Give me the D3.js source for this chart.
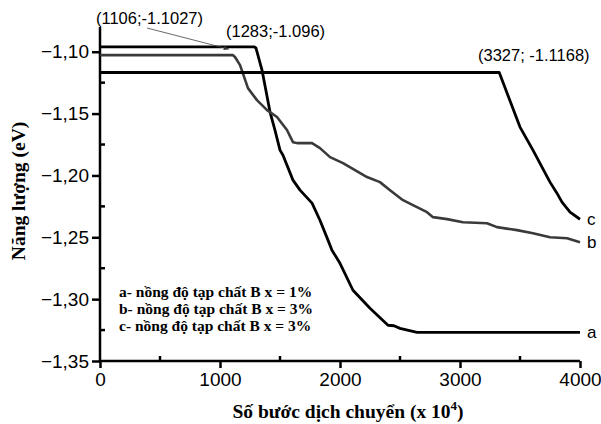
<!DOCTYPE html>
<html>
<head>
<meta charset="utf-8">
<style>
    body { margin: 0; background: #fff; }
    svg { display: block; }
    .tick-label { font-family: Arial, 'Liberation Sans', sans-serif; font-size: 19px; fill: #000; }
    .title { font-family: 'Times New Roman', 'Liberation Serif', serif; font-weight: bold; fill: #000; }
    .note { font-family: Arial, 'Liberation Sans', sans-serif; font-size: 16.5px; fill: #000; }
</style>
</head>
<body>
<svg width="601" height="424"></svg>
<script src="https://d3js.org/d3.v7.min.js"></script>
<script>
    // series: [step (x 10^4), energy (eV)]
    let seriesA = [[0, -1.096], [1283, -1.096], [1300, -1.097], [1350, -1.1148], [1417, -1.1488], [1458, -1.1633],
        [1500, -1.1795], [1525, -1.1837], [1608, -1.2038], [1667, -1.2119], [1767, -1.2224], [1833, -1.2362],
        [1900, -1.2523], [1933, -1.2604], [2000, -1.271], [2108, -1.2928], [2250, -1.3074], [2400, -1.3211],
        [2450, -1.3215], [2500, -1.3236], [2642, -1.3268], [4000, -1.3268]]
    let seriesB = [[0, -1.1027], [1106, -1.1027], [1125, -1.1043], [1167, -1.1108], [1233, -1.1294], [1308, -1.1391],
        [1392, -1.1472], [1475, -1.1528], [1558, -1.1633], [1608, -1.1731], [1650, -1.1739], [1767, -1.1739],
        [1833, -1.1779], [1917, -1.1852], [2025, -1.19], [2225, -1.2013], [2333, -1.2054], [2417, -1.2119],
        [2525, -1.22], [2608, -1.224], [2725, -1.2297], [2775, -1.2337], [2892, -1.2353], [3025, -1.2378],
        [3225, -1.2386], [3308, -1.2418], [3475, -1.2442], [3608, -1.2467], [3750, -1.25], [3892, -1.2508],
        [4000, -1.254]]
    let seriesC = [[0, -1.1168], [3327, -1.1168], [3392, -1.1334], [3500, -1.1609], [3608, -1.1795], [3750, -1.2054],
        [3808, -1.2143], [3850, -1.2216], [3917, -1.2297], [4000, -1.2354]]

    let curveNames = ["a", "b", "c"]
    let curveColors = ["#000", "#3a3a3a", "#000"]
    let xTicks = [0, 1000, 2000, 3000, 4000]
    let xMinor = [500, 1500, 2500, 3500]
    let yTicks = [-1.10, -1.15, -1.20, -1.25, -1.30, -1.35]
    let yMinor = [-1.125, -1.175, -1.225, -1.275, -1.325]
    let legendLines = ["a- nồng độ tạp chất B x = 1%", "b- nồng độ tạp chất B x = 3%", "c- nồng độ tạp chất B x = 3%"]
    let notes = [
        { text: "(1106;-1.1027)", x: 1106, y: -1.1027 },
        { text: "(1283;-1.096)", x: 1283, y: -1.096 },
        { text: "(3327; -1.1168)", x: 3327, y: -1.1168 }
    ]

    let svg = d3.select("svg")

    let x = d3.scaleLinear().domain([0, 4000]).range([100, 580])
    let y = d3.scaleLinear().domain([-1.35, -1.08]).range([361, 27])

    let line = d3.line()
        .x(d => x(d[0]))
        .y(d => y(d[1]))

    // axes
    let yAxis = svg.append("g").attr("transform", "translate(100,0)")
        .call(d3.axisLeft(y).tickValues(yTicks).tickSize(8).tickPadding(3)
            .tickFormat(d => d3.format(".2f")(d).replace(".", ",")))
    yAxis.select(".domain").attr("d", "M0," + y(-1.35) + "V" + y(-1.08))
    let xAxis = svg.append("g").attr("transform", "translate(0,361)")
        .call(d3.axisBottom(x).tickValues(xTicks).tickSize(7).tickPadding(5).tickFormat(d3.format("d")))
    xAxis.select(".domain").attr("d", "M100,0H580")

    svg.selectAll(".domain").style("stroke", "#000").style("stroke-width", 2.5)
    svg.selectAll(".tick line").style("stroke", "#000").style("stroke-width", 2.5)
    svg.selectAll(".tick text").attr("class", "tick-label").attr("font-family", null).attr("font-size", null)

    svg.append("g").selectAll("line")
        .data(yMinor)
        .join("line")
        .attr("x1", 100).attr("x2", 105)
        .attr("y1", d => y(d)).attr("y2", d => y(d))
        .style("stroke", "#000").style("stroke-width", 2.5)
    svg.append("g").selectAll("line")
        .data(xMinor)
        .join("line")
        .attr("x1", d => x(d)).attr("x2", d => x(d))
        .attr("y1", 361).attr("y2", 356)
        .style("stroke", "#000").style("stroke-width", 2.5)

    // curves
    let all = [seriesA, seriesB, seriesC]
    svg.append("g").selectAll("path")
        .data(all)
        .join("path")
        .attr("d", line)
        .style("fill", "none")
        .style("stroke", (d, i) => curveColors[i])
        .style("stroke-width", (d, i) => i == 1 ? 2.6 : 2.8)
        .style("stroke-linejoin", "round")

    svg.append("g").selectAll("text")
        .data(all)
        .join("text")
        .attr("class", "note")
        .attr("x", d => x(d[d.length - 1][0]) + 7)
        .attr("y", d => y(d[d.length - 1][1]) + 6)
        .style("font-size", "17px")
        .text((d, i) => curveNames[i])

    // point notes
    svg.append("text").attr("class", "note")
        .attr("x", 96).attr("y", 24).text(notes[0].text)
    svg.append("text").attr("class", "note")
        .attr("x", 226).attr("y", 37).text(notes[1].text)
    svg.append("text").attr("class", "note")
        .attr("x", 478).attr("y", 61).text(notes[2].text)

    svg.append("defs").append("marker")
        .attr("id", "head")
        .attr("viewBox", "0 0 10 10")
        .attr("refX", 9).attr("refY", 5)
        .attr("markerWidth", 7).attr("markerHeight", 7)
        .attr("orient", "auto")
        .append("path").attr("d", "M0,1L10,5L0,9Z").style("fill", "#333")
    svg.append("line")
        .attr("x1", 147).attr("y1", 28)
        .attr("x2", x(notes[0].x) - 4).attr("y2", y(notes[0].y) - 6)
        .style("stroke", "#444").style("stroke-width", 0.8)
        .attr("marker-end", "url(#head)")

    // legend text
    svg.append("g").selectAll("text")
        .data(legendLines)
        .join("text")
        .attr("class", "title")
        .attr("x", 119)
        .attr("y", (d, i) => 297 + i * 17)
        .style("font-size", "15.5px")
        .text(d => d)

    // axis titles
    svg.append("text").attr("class", "title")
        .attr("transform", "translate(25,191) rotate(-90)")
        .attr("text-anchor", "middle")
        .style("font-size", "19.5px")
        .text("Năng lượng (eV)")

    let xt = svg.append("text").attr("class", "title")
        .attr("x", 348).attr("y", 418)
        .attr("text-anchor", "middle")
        .style("font-size", "19.5px")
    xt.append("tspan").text("Số bước dịch chuyển (x 10")
    xt.append("tspan").attr("dy", -8).style("font-size", "13px").text("4")
    xt.append("tspan").attr("dy", 8).text(")")
</script>
</body>
</html>
